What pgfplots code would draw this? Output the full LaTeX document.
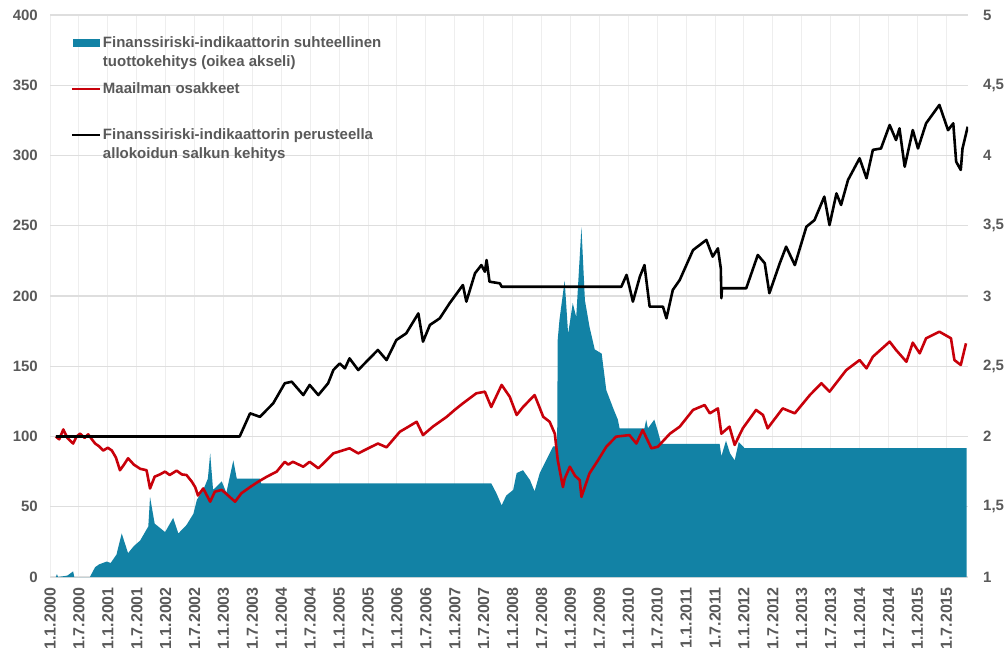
\documentclass[border=0pt]{standalone}
\usepackage{fontspec}
\setmainfont{Liberation Sans}
\usepackage{pgfplots}
\pgfplotsset{compat=1.18}
\definecolor{myblue}{RGB}{18,130,165}
\definecolor{myred}{RGB}{200,0,10}
\definecolor{txtgray}{RGB}{89,89,89}
\definecolor{gridh}{RGB}{222,222,222}
\definecolor{gridv}{RGB}{238,238,238}
\pgfplotsset{
 base/.style={
  scale only axis, width=918bp, height=562bp,
  at={(0bp,0bp)}, anchor=south west,
  xmin=2000, xmax=2015.875,
  axis line style={draw=none},
  major tick length=0pt, minor tick length=0pt,
  tick style={draw=none},
  ticklabel style={font=\fontsize{15bp}{18bp}\selectfont\bfseries, text=txtgray},
  /pgf/number format/assume math mode=true,
 }
}
\begin{document}
\begin{tikzpicture}
\useasboundingbox (-50bp,-79bp) rectangle (958bp,577bp);
% right axis: blue area + grid
\begin{axis}[base,
  ymin=1, ymax=5, ytick={1,1.5,2,2.5,3,3.5,4,4.5,5},
  yticklabel pos=right,
  yticklabel style={anchor=west, inner sep=0pt, xshift=15bp, /pgf/number format/.cd, use comma, fixed, precision=1},
  xtick={2000,2000.5,...,2015.5},
  minor x tick num=1,
  xticklabels={1.1.2000,1.7.2000,1.1.2001,1.7.2001,1.1.2002,1.7.2002,1.1.2003,1.7.2003,1.1.2004,1.7.2004,1.1.2005,1.7.2005,1.1.2006,1.7.2006,1.1.2007,1.7.2007,1.1.2008,1.7.2008,1.1.2009,1.7.2009,1.1.2010,1.7.2010,1.1.2011,1.7.2011,1.1.2012,1.7.2012,1.1.2013,1.7.2013,1.1.2014,1.7.2014,1.1.2015,1.7.2015},
  xticklabel style={yshift=-10bp, rotate=90, anchor=east, inner sep=0pt, font=\fontsize{16bp}{18bp}\selectfont\bfseries},
  ymajorgrids, xmajorgrids, xminorgrids,
  y grid style={gridh, line width=1.3bp},
  x grid style={gridv, line width=1bp},
  minor x grid style={gridv, line width=1bp},
]
\addplot[fill=myblue, draw=none] coordinates {
(2000.10,1)(2000.12,1.02)(2000.14,1)(2000.30,1.01)(2000.40,1.04)(2000.42,1)(2000.69,1)(2000.78,1.07)(2000.85,1.09)(2000.98,1.11)(2001.05,1.10)(2001.15,1.16)(2001.24,1.31)(2001.35,1.17)(2001.45,1.22)(2001.56,1.26)(2001.70,1.36)(2001.73,1.57)(2001.81,1.38)(2001.99,1.32)(2002.13,1.42)(2002.22,1.31)(2002.36,1.37)(2002.48,1.45)(2002.54,1.55)(2002.65,1.62)(2002.73,1.70)(2002.77,1.88)(2002.82,1.62)(2002.97,1.68)(2003.05,1.60)(2003.17,1.83)(2003.23,1.70)(2003.63,1.70)(2003.65,1.667)(2007.63,1.667)(2007.72,1.596)(2007.81,1.51)(2007.89,1.58)(2008.01,1.62)(2008.07,1.74)(2008.18,1.76)(2008.30,1.69)(2008.38,1.61)(2008.47,1.74)(2008.58,1.83)(2008.70,1.93)(2008.77,1.93)(2008.78,2.69)(2008.81,2.83)(2008.90,3.11)(2008.96,2.73)(2009.04,2.95)(2009.10,2.85)(2009.19,3.49)(2009.25,2.97)(2009.33,2.78)(2009.42,2.62)(2009.54,2.59)(2009.62,2.33)(2009.75,2.19)(2009.82,2.12)(2009.85,2.058)(2010.28,2.058)(2010.31,2.12)(2010.34,2.058)(2010.45,2.12)(2010.51,2.04)(2010.57,1.947)(2011.58,1.947)(2011.61,1.86)(2011.69,1.97)(2011.76,1.88)(2011.84,1.83)(2011.91,1.96)(2012.01,1.918)(2015.85,1.918)(2015.85,1)
};
\end{axis}
% left axis: lines + legend
\begin{axis}[base,
  ymin=0, ymax=400, ytick={0,50,...,400},
  yticklabel style={anchor=east, inner sep=0pt, xshift=-12bp},
  xtick=\empty,
  legend style={draw=none, fill=none, at={(rel axis cs:0,1)}, anchor=north west, xshift=21bp, yshift=-19bp, inner sep=0pt, outer sep=0pt, row sep=31.5bp, column sep=0bp, font=\fontsize{15bp}{19bp}\selectfont\bfseries, text=txtgray, cells={anchor=base west}, nodes={inner sep=0pt, outer sep=0pt}},
]
\addlegendimage{legend image code/.code={\fill[myblue] (0bp,1.5bp) rectangle (26bp,8.5bp);}}
\addlegendentry{\hspace{2bp}\parbox[t]{330bp}{\strut Finanssiriski-indikaattorin suhteellinen\\tuottokehitys (oikea akseli)\strut}}
\addplot[myred, line width=2.6bp, line join=round, legend image code/.code={\draw[myred, line width=2bp] (-1bp,5bp) -- (27bp,5bp);}] coordinates {
(2000.10,100)(2000.16,98)(2000.23,105)(2000.30,99)(2000.40,95)(2000.46,100)(2000.52,102)(2000.60,99)(2000.66,101.5)(2000.78,95)(2000.85,93)(2000.92,90)(2001.00,92)(2001.07,90)(2001.14,85)(2001.21,76)(2001.28,80)(2001.35,84.5)(2001.45,80)(2001.56,77)(2001.67,76)(2001.73,63)(2001.81,71.4)(2001.90,73)(2001.99,75)(2002.07,72.6)(2002.19,75.7)(2002.28,73)(2002.36,72.6)(2002.45,68)(2002.51,64)(2002.56,58)(2002.65,63)(2002.77,53.6)(2002.85,60.7)(2002.97,62)(2003.08,58)(2003.20,53.6)(2003.31,59.6)(2003.46,64)(2003.60,67.8)(2003.75,71.4)(2003.92,75)(2004.06,82)(2004.12,80)(2004.20,82)(2004.38,78.5)(2004.49,82)(2004.64,77.4)(2004.78,83)(2004.90,88)(2005.18,91.6)(2005.33,88)(2005.47,90.9)(2005.67,95)(2005.82,92.3)(2006.05,103.4)(2006.20,107)(2006.34,110.5)(2006.45,101)(2006.62,107)(2006.86,114)(2007.00,119)(2007.14,123.6)(2007.37,130.7)(2007.52,131.9)(2007.63,121)(2007.81,136.7)(2007.95,128.3)(2008.07,115.3)(2008.18,121)(2008.38,129.5)(2008.53,114)(2008.64,110.5)(2008.73,102)(2008.78,83.3)(2008.87,64)(2008.90,70)(2008.99,78.5)(2009.08,72)(2009.16,69)(2009.19,57)(2009.33,73.8)(2009.48,83.3)(2009.62,92.7)(2009.79,99.9)(2010.02,101)(2010.14,95)(2010.25,104.6)(2010.40,91.6)(2010.51,92.7)(2010.72,102)(2010.89,107)(2011.12,118.9)(2011.32,122.4)(2011.41,116.5)(2011.55,120)(2011.61,102)(2011.75,107)(2011.84,94)(2011.98,105.8)(2012.21,118.9)(2012.33,115.3)(2012.41,105.8)(2012.67,120)(2012.88,116.5)(2013.14,129.5)(2013.34,137.9)(2013.48,131.9)(2013.77,147.3)(2014.00,154.4)(2014.12,148.5)(2014.23,156.8)(2014.52,167.5)(2014.63,161.6)(2014.81,153.2)(2014.92,166.8)(2015.04,159.2)(2015.15,169.9)(2015.38,174.6)(2015.58,169.9)(2015.64,154.4)(2015.75,150.9)(2015.84,166.3)
};
\addlegendentry{\hspace{2bp}\parbox[t]{330bp}{\strut Maailman osakkeet\\\strut}}
\addplot[black, line width=2.6bp, line join=round, legend image code/.code={\draw[black, line width=2bp] (-1bp,5bp) -- (27bp,5bp);}] coordinates {
(2000.10,100)(2003.28,100)(2003.46,116.5)(2003.63,114)(2003.86,123.6)(2004.06,137.9)(2004.18,139)(2004.38,129.5)(2004.49,136.7)(2004.64,129.5)(2004.81,137.9)(2004.90,147.3)(2005.01,152)(2005.10,148.5)(2005.18,155.6)(2005.33,147.3)(2005.47,153.2)(2005.67,161.6)(2005.82,154.4)(2005.99,168.7)(2006.16,173.4)(2006.37,187.6)(2006.45,167.5)(2006.57,179.4)(2006.74,184.1)(2006.91,194.8)(2007.14,207.8)(2007.20,196)(2007.35,216.2)(2007.46,222)(2007.52,217.3)(2007.55,225.6)(2007.60,210.2)(2007.78,209)(2007.81,206.6)(2009.88,206.6)(2009.97,215)(2010.02,206.6)(2010.08,196)(2010.20,213.7)(2010.28,222)(2010.37,192.4)(2010.60,192.4)(2010.66,184.1)(2010.77,204.3)(2010.89,211.4)(2011.12,232.7)(2011.35,239.9)(2011.46,228)(2011.55,233.9)(2011.60,219.7)(2011.61,198.4)(2011.62,205.5)(2012.04,205.5)(2012.24,229.2)(2012.36,223.3)(2012.44,202)(2012.62,223.3)(2012.73,235.1)(2012.88,222)(2013.08,249.3)(2013.22,254)(2013.39,270.7)(2013.48,250.5)(2013.60,273)(2013.68,264.8)(2013.80,282.6)(2014.00,298)(2014.12,283.8)(2014.23,304)(2014.37,305)(2014.52,321.7)(2014.63,311)(2014.69,319.3)(2014.78,292)(2014.92,318.1)(2015.01,305)(2015.15,322.9)(2015.38,336)(2015.53,318)(2015.62,322.9)(2015.67,295.6)(2015.75,289.7)(2015.78,305)(2015.87,320.5)
};
\addlegendentry{\hspace{2bp}\parbox[t]{330bp}{\strut Finanssiriski-indikaattorin perusteella\\allokoidun salkun kehitys\strut}}
\end{axis}
\end{tikzpicture}
\end{document}
